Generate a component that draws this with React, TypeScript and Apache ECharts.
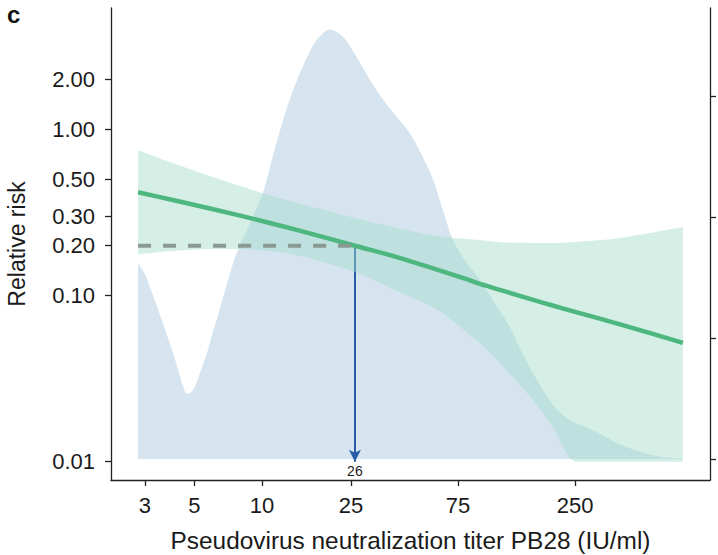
import React, { useEffect, useRef } from "react";
import * as echarts from "echarts";

// Titer distribution (density, right axis) sampled along the titer axis
const densityTiter = [
  2.8, 3.0, 3.16, 3.36, 3.57, 3.77, 4.02, 4.22, 4.45, 4.62, 4.82, 5.02, 5.34,
  5.67, 5.96, 6.28, 6.6, 6.91, 7.27, 7.71, 8.84, 10.1, 11.6, 13.3, 15.2, 17.5,
  20.1, 23.0, 26.5, 30.4, 34.7, 39.9, 45.8, 51.8, 58.0, 64.2, 71.2, 81.4, 94,
  110, 128, 143, 162, 183, 207, 242, 283, 330, 385, 487, 598, 757,
];
const densityValue = [
  1.62, 1.53, 1.42, 1.29, 1.15, 1.02, 0.87, 0.74, 0.6, 0.54, 0.55, 0.6, 0.73,
  0.87, 1.01, 1.15, 1.29, 1.42, 1.56, 1.7, 1.95, 2.2, 2.61, 2.97, 3.24, 3.46,
  3.55, 3.49, 3.32, 3.13, 2.97, 2.83, 2.69, 2.51, 2.31, 2.06, 1.81, 1.63, 1.48,
  1.28, 1.09, 0.9, 0.71, 0.55, 0.41, 0.31, 0.26, 0.2, 0.13, 0.06, 0.02, 0.0,
];

// Fitted relative risk with its 95% confidence band
const fitTiter = [2.8, 4, 6, 10, 15, 26, 40, 60, 80, 100, 125, 160, 200, 250, 400, 757];
const riskEstimate = [
  0.42, 0.377, 0.333, 0.282, 0.245, 0.2, 0.171, 0.144, 0.127, 0.115, 0.105,
  0.095, 0.087, 0.08, 0.067, 0.052,
];
const riskUpper = [
  0.755, 0.63, 0.52, 0.416, 0.357, 0.294, 0.256, 0.229, 0.22, 0.214, 0.209,
  0.208, 0.208, 0.211, 0.223, 0.259,
];
const riskLower = [
  0.178, 0.186, 0.191, 0.188, 0.173, 0.139, 0.107, 0.083, 0.062, 0.048, 0.035,
  0.024, 0.016, 0.01, 0.01, 0.01,
];

// Threshold read-off: titer giving a relative risk of 0.20
const thresholdRisk = 0.2;
const thresholdTiter = 26;

// Axis ticks and ranges
const xTickValues = [3, 5, 10, 25, 75, 250];
const yTickValues = [0.01, 0.1, 0.2, 0.3, 0.5, 1, 2];
const densityTicks = [0, 1, 2, 3];
const xRange = [2.12, 1000];
const yRange = [0.00776, 5.41];
const densityRange = [-0.1736, 3.727];

const lg = Math.log10;
const FONT = '"Liberation Sans", Arial, Helvetica, sans-serif';
const INK = "#1a1a1a";
const AXIS = "#222";

type Pt = number[];

// Smooth curve through pixel points (Catmull-Rom with control points kept
// inside each segment's vertical range so the edge never overshoots).
function curveSegments(pts: Pt[]): string {
  let d = "";
  for (let i = 0; i < pts.length - 1; i++) {
    const p0 = pts[Math.max(i - 1, 0)];
    const p1 = pts[i];
    const p2 = pts[i + 1];
    const p3 = pts[Math.min(i + 2, pts.length - 1)];
    const lo = Math.min(p1[1], p2[1]);
    const hi = Math.max(p1[1], p2[1]);
    const clampY = (y: number) => Math.min(hi, Math.max(lo, y));
    const c1x = p1[0] + (p2[0] - p0[0]) / 6;
    const c1y = clampY(p1[1] + (p2[1] - p0[1]) / 6);
    const c2x = p2[0] - (p3[0] - p1[0]) / 6;
    const c2y = clampY(p2[1] - (p3[1] - p1[1]) / 6);
    d += ` C${c1x},${c1y} ${c2x},${c2y} ${p2[0]},${p2[1]}`;
  }
  return d;
}

function renderBand(_params: any, api: any) {
  const upper = fitTiter.map((t, i) => api.coord([lg(t), lg(riskUpper[i])]));
  const lower = fitTiter
    .map((t, i) => api.coord([lg(t), lg(riskLower[i])]))
    .reverse();
  const pathData =
    `M${upper[0][0]},${upper[0][1]}` +
    curveSegments(upper) +
    ` L${lower[0][0]},${lower[0][1]}` +
    curveSegments(lower) +
    " Z";
  return {
    type: "path",
    shape: { pathData },
    style: { fill: "rgba(164,220,203,0.46)", stroke: "none" },
  };
}

function buildOption() {
  const densityData = densityTiter.map((t, i) => [lg(t), densityValue[i]]);
  const estimateData = fitTiter.map((t, i) => [lg(t), lg(riskEstimate[i])]);
  const dashedData = [
    [lg(fitTiter[0]), lg(thresholdRisk)],
    [lg(thresholdTiter), lg(thresholdRisk)],
  ];

  const axisLineStyle = { color: AXIS, width: 1.3 };

  return {
    animation: false,
    backgroundColor: "#fff",
    textStyle: { fontFamily: FONT },
    grid: {
      left: 111,
      right: 8,
      top: 8,
      bottom: 75,
      containLabel: false,
      outerBoundsMode: "none",
    },
    graphic: [
      {
        type: "text",
        left: 7,
        top: 2,
        style: { text: "c", font: `bold 24px ${FONT}`, fill: "#111" },
      },
    ],
    xAxis: {
      type: "value",
      min: lg(xRange[0]),
      max: lg(xRange[1]),
      axisLine: { show: true, onZero: false, lineStyle: axisLineStyle },
      axisTick: {
        show: true,
        length: 6,
        customValues: xTickValues.map(lg),
        lineStyle: axisLineStyle,
      },
      axisLabel: {
        customValues: xTickValues.map(lg),
        formatter: (v: number) => String(Math.round(10 ** v)),
        fontSize: 22,
        color: INK,
        margin: 14,
      },
      splitLine: { show: false },
      name: "Pseudovirus neutralization titer PB28 (IU/ml)",
      nameLocation: "middle",
      nameGap: 48,
      nameTextStyle: { fontSize: 24.4, color: INK },
    },
    yAxis: [
      {
        type: "value",
        position: "left",
        min: lg(yRange[0]),
        max: lg(yRange[1]),
        axisLine: { show: true, onZero: false, lineStyle: axisLineStyle },
        axisTick: {
          show: true,
          length: 6,
          customValues: yTickValues.map(lg),
          lineStyle: axisLineStyle,
        },
        axisLabel: {
          customValues: yTickValues.map(lg),
          formatter: (v: number) => (10 ** v).toFixed(2),
          fontSize: 22,
          color: INK,
          margin: 16,
        },
        splitLine: { show: false },
        name: "Relative risk",
        nameLocation: "middle",
        nameGap: 83,
        nameTextStyle: { fontSize: 23, color: INK },
      },
      {
        type: "value",
        position: "right",
        min: densityRange[0],
        max: densityRange[1],
        axisLine: { show: true, onZero: false, lineStyle: axisLineStyle },
        axisTick: {
          show: true,
          length: 6,
          customValues: densityTicks,
          lineStyle: axisLineStyle,
        },
        axisLabel: { show: false },
        splitLine: { show: false },
      },
    ],
    series: [
      {
        name: "density",
        type: "line",
        yAxisIndex: 1,
        z: 1,
        data: densityData,
        smooth: 0.3,
        symbol: "none",
        lineStyle: { width: 0 },
        areaStyle: { color: "#d5e4ef", opacity: 1 },
        silent: true,
      },
      {
        name: "threshold arrow",
        type: "line",
        z: 2,
        data: [],
        symbol: "none",
        markLine: {
          z: 2,
          silent: true,
          symbol: ["none", "path://M5,0 L10,12 L5,9 L0,12 Z"],
          symbolSize: 12,
          symbolOffset: [
            [0, 0],
            [0, 6],
          ],
          lineStyle: { color: "#2a5ca8", width: 2, type: "solid" },
          label: {
            show: true,
            position: "end",
            formatter: String(thresholdTiter),
            fontSize: 14,
            color: INK,
            distance: 2,
          },
          data: [
            [
              { coord: [lg(thresholdTiter), lg(thresholdRisk)] },
              { coord: [lg(thresholdTiter), lg(yTickValues[0])] },
            ],
          ],
        },
      },
      {
        name: "ci band",
        type: "custom",
        z: 3,
        silent: true,
        renderItem: renderBand,
        data: [[lg(fitTiter[0]), lg(riskEstimate[0])]],
      },
      {
        name: "relative risk",
        type: "line",
        z: 4,
        data: estimateData,
        smooth: 0.3,
        symbol: "none",
        lineStyle: { color: "#4db77f", width: 4.5 },
        silent: true,
      },
      {
        name: "threshold",
        type: "line",
        z: 5,
        data: dashedData,
        symbol: "none",
        lineStyle: { color: "#8a9a93", width: 4, type: [13, 12] },
        silent: true,
      },
    ],
  };
}

export default function App() {
  const ref = useRef<HTMLDivElement>(null);
  useEffect(() => {
    if (!ref.current) return;
    const chart = echarts.init(ref.current, undefined, { renderer: "svg" });
    chart.setOption(buildOption() as any);
    return () => chart.dispose();
  }, []);
  return (
    <div
      ref={ref}
      style={{
        position: "fixed",
        left: 0,
        top: 0,
        width: 718,
        height: 555,
        background: "#fff",
      }}
    />
  );
}
